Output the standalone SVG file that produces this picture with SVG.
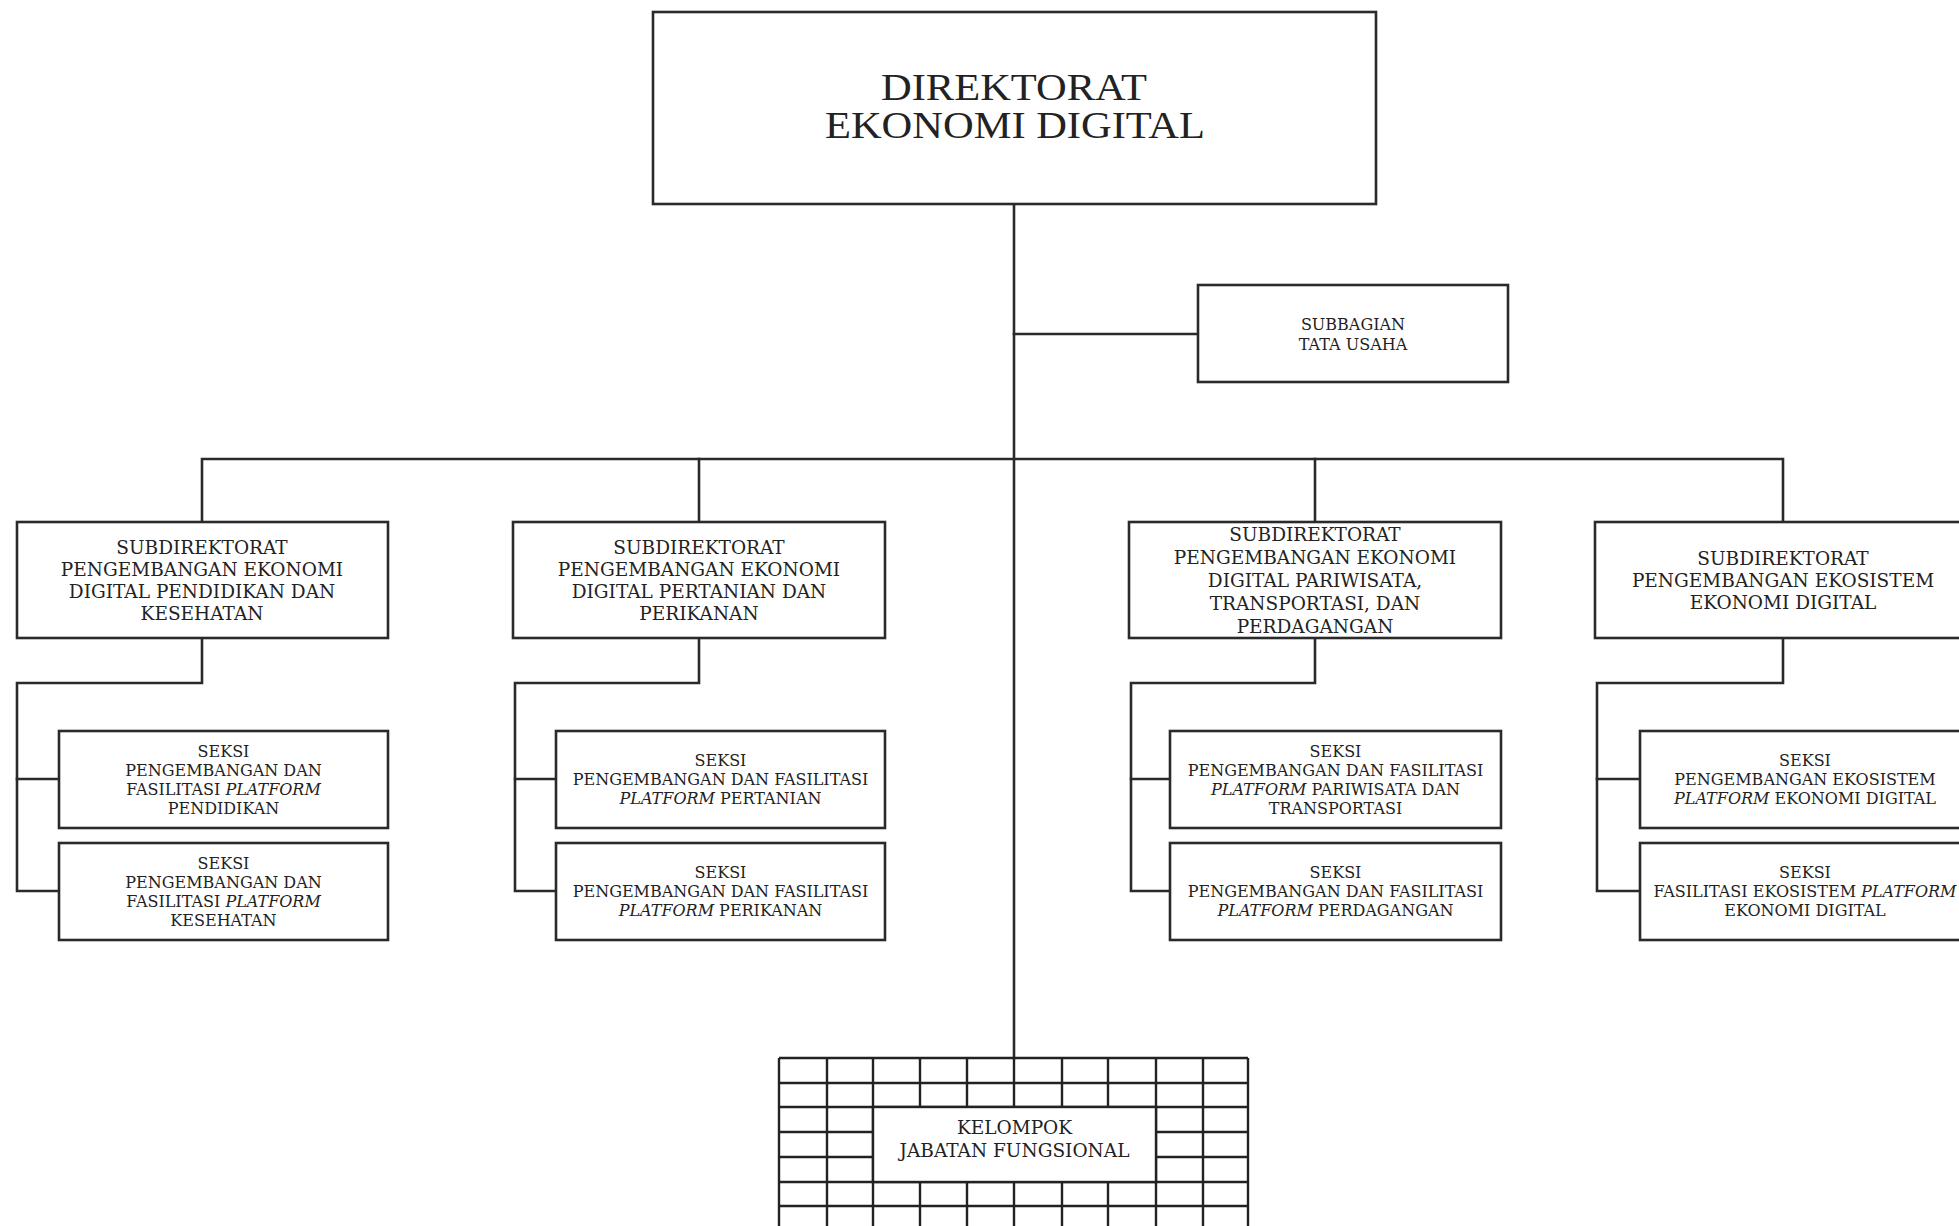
<svg xmlns="http://www.w3.org/2000/svg" width="1959" height="1226" viewBox="0 0 1959 1226">
<style>
  .box { fill: #ffffff; stroke: #2a2a2a; stroke-width: 2.6; }
  .ln { fill: none; stroke: #2a2a2a; stroke-width: 2.6; stroke-linecap: square; }
  .grid { fill: none; stroke: #222; stroke-width: 2.4; }
  text { font-family: "DejaVu Serif", "Liberation Serif", serif; fill: #222; text-anchor: middle; }
  .t1 { font-family: "Liberation Serif", "DejaVu Serif", serif; font-size: 38px; }
  .t2 { font-size: 18.5px; }
  .t3 { font-size: 16px; }
  .it { font-style: italic; }
</style>
<rect width="1959" height="1226" fill="#ffffff"/>

<g id="connectors">
  <path class="ln" d="M1014 204 V1058"/>
  <path class="ln" d="M1014 334 H1198"/>
  <path class="ln" d="M202 522 V459 H1783 V522"/>
  <path class="ln" d="M699 459 V522"/>
  <path class="ln" d="M1315 459 V522"/>
  <path class="ln" d="M202 638 V683 H17 V891 H59"/>
  <path class="ln" d="M17 779 H59"/>
  <path class="ln" d="M699 638 V683 H515 V891 H556"/>
  <path class="ln" d="M515 779 H556"/>
  <path class="ln" d="M1315 638 V683 H1131 V891 H1170"/>
  <path class="ln" d="M1131 779 H1170"/>
  <path class="ln" d="M1783 638 V683 H1597 V891 H1640"/>
  <path class="ln" d="M1597 779 H1640"/>
</g>

<g id="direktorat">
  <rect class="box" x="653" y="12" width="723" height="192"/>
  <text class="t1" x="1014" y="100" textLength="266" lengthAdjust="spacingAndGlyphs">DIREKTORAT</text>
  <text class="t1" x="1015" y="138" textLength="380" lengthAdjust="spacingAndGlyphs">EKONOMI DIGITAL</text>
</g>

<g id="subbagian">
  <rect class="box" x="1198" y="285" width="310" height="97"/>
  <text class="t3" x="1353" y="329.5">SUBBAGIAN</text>
  <text class="t3" x="1353" y="350">TATA USAHA</text>
</g>

<g id="subdit-pendidikan">
  <rect class="box" x="17" y="522" width="371" height="116"/>
  <text class="t2" x="202" y="553.7">SUBDIREKTORAT</text>
  <text class="t2" x="202" y="575.7">PENGEMBANGAN EKONOMI</text>
  <text class="t2" x="202" y="597.7">DIGITAL PENDIDIKAN DAN</text>
  <text class="t2" x="202" y="619.7">KESEHATAN</text>
</g>

<g id="subdit-pertanian">
  <rect class="box" x="513" y="522" width="372" height="116"/>
  <text class="t2" x="699" y="553.7">SUBDIREKTORAT</text>
  <text class="t2" x="699" y="575.7">PENGEMBANGAN EKONOMI</text>
  <text class="t2" x="699" y="597.7">DIGITAL PERTANIAN DAN</text>
  <text class="t2" x="699" y="619.7">PERIKANAN</text>
</g>

<g id="subdit-pariwisata">
  <rect class="box" x="1129" y="522" width="372" height="116"/>
  <text class="t2" x="1315" y="540.7">SUBDIREKTORAT</text>
  <text class="t2" x="1315" y="563.7">PENGEMBANGAN EKONOMI</text>
  <text class="t2" x="1315" y="586.7">DIGITAL PARIWISATA,</text>
  <text class="t2" x="1315" y="609.7">TRANSPORTASI, DAN</text>
  <text class="t2" x="1315" y="632.7">PERDAGANGAN</text>
</g>

<g id="subdit-ekosistem">
  <rect class="box" x="1595" y="522" width="376" height="116"/>
  <text class="t2" x="1783" y="564.7">SUBDIREKTORAT</text>
  <text class="t2" x="1783" y="586.7">PENGEMBANGAN EKOSISTEM</text>
  <text class="t2" x="1783" y="608.7">EKONOMI DIGITAL</text>
</g>

<g id="seksi-pendidikan">
  <rect class="box" x="59" y="731" width="329" height="97"/>
  <text class="t3" x="223.5" y="756.8">SEKSI</text>
  <text class="t3" x="223.5" y="775.8">PENGEMBANGAN DAN</text>
  <text class="t3" x="223.5" y="794.8">FASILITASI <tspan class="it">PLATFORM</tspan></text>
  <text class="t3" x="223.5" y="813.8">PENDIDIKAN</text>
</g>

<g id="seksi-kesehatan">
  <rect class="box" x="59" y="843" width="329" height="97"/>
  <text class="t3" x="223.5" y="868.8">SEKSI</text>
  <text class="t3" x="223.5" y="887.8">PENGEMBANGAN DAN</text>
  <text class="t3" x="223.5" y="906.8">FASILITASI <tspan class="it">PLATFORM</tspan></text>
  <text class="t3" x="223.5" y="925.8">KESEHATAN</text>
</g>

<g id="seksi-pertanian">
  <rect class="box" x="556" y="731" width="329" height="97"/>
  <text class="t3" x="720.5" y="766.3">SEKSI</text>
  <text class="t3" x="720.5" y="785.3">PENGEMBANGAN DAN FASILITASI</text>
  <text class="t3" x="720.5" y="804.3"><tspan class="it">PLATFORM</tspan> PERTANIAN</text>
</g>

<g id="seksi-perikanan">
  <rect class="box" x="556" y="843" width="329" height="97"/>
  <text class="t3" x="720.5" y="878.3">SEKSI</text>
  <text class="t3" x="720.5" y="897.3">PENGEMBANGAN DAN FASILITASI</text>
  <text class="t3" x="720.5" y="916.3"><tspan class="it">PLATFORM</tspan> PERIKANAN</text>
</g>

<g id="seksi-pariwisata">
  <rect class="box" x="1170" y="731" width="331" height="97"/>
  <text class="t3" x="1335.5" y="756.8">SEKSI</text>
  <text class="t3" x="1335.5" y="775.8">PENGEMBANGAN DAN FASILITASI</text>
  <text class="t3" x="1335.5" y="794.8"><tspan class="it">PLATFORM</tspan> PARIWISATA DAN</text>
  <text class="t3" x="1335.5" y="813.8">TRANSPORTASI</text>
</g>

<g id="seksi-perdagangan">
  <rect class="box" x="1170" y="843" width="331" height="97"/>
  <text class="t3" x="1335.5" y="878.3">SEKSI</text>
  <text class="t3" x="1335.5" y="897.3">PENGEMBANGAN DAN FASILITASI</text>
  <text class="t3" x="1335.5" y="916.3"><tspan class="it">PLATFORM</tspan> PERDAGANGAN</text>
</g>

<g id="seksi-pengembangan-ekosistem">
  <rect class="box" x="1640" y="731" width="330" height="97"/>
  <text class="t3" x="1805" y="766.3">SEKSI</text>
  <text class="t3" x="1805" y="785.3">PENGEMBANGAN EKOSISTEM</text>
  <text class="t3" x="1805" y="804.3"><tspan class="it">PLATFORM</tspan> EKONOMI DIGITAL</text>
</g>

<g id="seksi-fasilitasi-ekosistem">
  <rect class="box" x="1640" y="843" width="330" height="97"/>
  <text class="t3" x="1805" y="878.3">SEKSI</text>
  <text class="t3" x="1805" y="897.3">FASILITASI EKOSISTEM <tspan class="it">PLATFORM</tspan></text>
  <text class="t3" x="1805" y="916.3">EKONOMI DIGITAL</text>
</g>

<g id="kelompok-jabatan-fungsional">
  <path class="grid" d="M779 1058 H1248 M779 1083 H1248 M779 1107 H1248 M779 1132 H1248 M779 1157 H1248 M779 1182 H1248 M779 1206 H1248"/>
  <path class="grid" d="M779 1058 V1226 M827 1058 V1226 M873 1058 V1226 M920 1058 V1226 M967 1058 V1226 M1014 1058 V1226 M1062 1058 V1226 M1108 1058 V1226 M1156 1058 V1226 M1203 1058 V1226 M1248 1058 V1226"/>
  <rect x="873" y="1107" width="283" height="75" fill="#ffffff" stroke="#222" stroke-width="2.4"/>
  <text class="t2" x="1014.5" y="1133.7">KELOMPOK</text>
  <text class="t2" x="1014.5" y="1156.7">JABATAN FUNGSIONAL</text>
</g>
</svg>
